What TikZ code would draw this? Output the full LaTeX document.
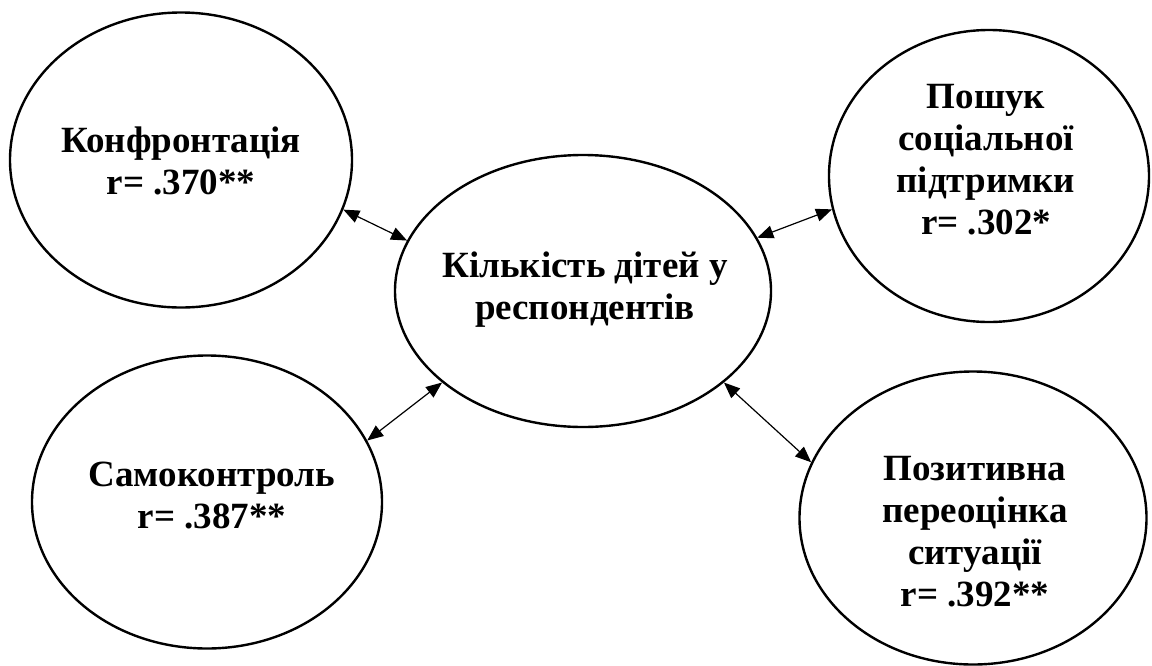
\documentclass[tikz,border=0pt]{standalone}
\usepackage{fontspec}
\setmainfont{Liberation Serif}
\usetikzlibrary{shapes.geometric, arrows.meta}

\tikzset{
  oval/.style={draw, ellipse, line width=1.2pt, inner sep=0pt},
  words/.style={align=center, font=\fontsize{18.5}{21}\selectfont\bfseries, inner sep=0pt},
  link/.style={{Triangle[length=8pt,width=6.5pt]}-{Triangle[length=8pt,width=6.5pt]}, line width=0.6pt}
}

\begin{document}
\begin{tikzpicture}[x=0.5pt, y=-0.5pt]
    \useasboundingbox (0,0) rectangle (1152,665);

    % Create ovals
    \node[oval, minimum width=171pt, minimum height=147.5pt] (konf) at (181,160) {};
    \node[oval, minimum width=188pt, minimum height=136pt] (kids) at (583,291) {};
    \node[oval, minimum width=160pt, minimum height=146pt] (poshuk) at (989,176) {};
    \node[oval, minimum width=175pt, minimum height=146.5pt] (samo) at (207,502) {};
    \node[oval, minimum width=173.5pt, minimum height=146.5pt] (pozyt) at (973,518) {};

    % Texts inside the ovals
    \node[words] (konf-txt) at (181,161) {Конфронтація\\r= .370**};
    \node[words] (kids-txt) at (585,290) {Кількість дітей у\\респондентів};
    \node[words] (poshuk-txt) at (986,160) {Пошук\\соціальної\\підтримки\\r= .302*};
    \node[words] (samo-txt) at (212,496) {Самоконтроль\\r= .387**};
    \node[words] (pozyt-txt) at (975,532) {Позитивна\\переоцінка\\ситуації\\r= .392**};

    % Draw links
    \draw[link] (konf.-17.7) -- (kids.164.4);
    \draw[link] (kids.17.1) -- (poshuk.-168.2);
    \draw[link] (kids.-147.7) -- (samo.21.1);
    \draw[link] (kids.-33.7) -- (pozyt.161.6);
\end{tikzpicture}
\end{document}
